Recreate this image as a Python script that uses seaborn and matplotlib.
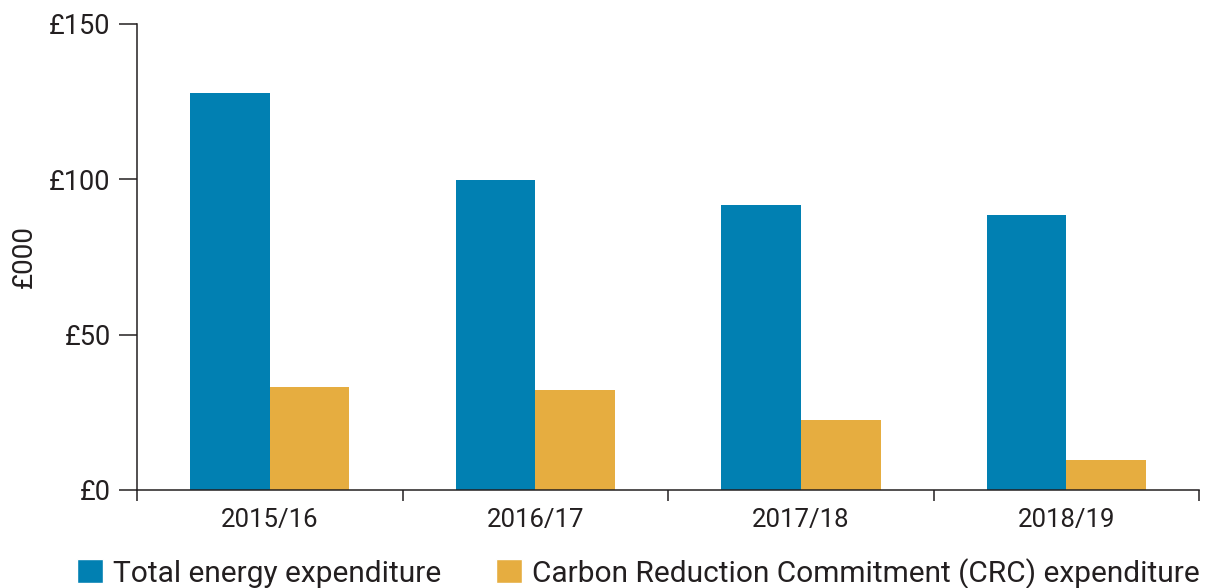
import pandas as pd
import matplotlib.pyplot as plt
import seaborn as sns
from matplotlib.patches import Patch
from matplotlib.ticker import FixedLocator, NullFormatter

years = ["2015/16", "2016/17", "2017/18", "2018/19"]
total_energy = [127.8, 99.8, 91.7, 88.5]
crc = [33.2, 32.2, 22.5, 9.7]
series_names = ["Total energy expenditure",
                "Carbon Reduction Commitment (CRC) expenditure"]
y_ticks = [0, 50, 100, 150]
y_tick_labels = ["£0", "£50", "£100", "£150"]

blue = "#0180B2"
orange = "#E6AD40"
ink = "#231F20"

df = pd.DataFrame({
    "Year": years * 2,
    "Series": [series_names[0]] * 4 + [series_names[1]] * 4,
    "Value": total_energy + crc,
})

sns.set_style("white")
plt.rcParams["font.family"] = ["Roboto", "DejaVu Sans"]

fig = plt.figure(figsize=(12.21, 5.88), dpi=100)
ax = fig.add_axes([0.1122, 0.1667, 0.8700, 0.7925])

sns.barplot(data=df, x="Year", y="Value", hue="Series", order=years,
            hue_order=series_names, palette=[blue, orange], width=0.6,
            saturation=1, linewidth=0, legend=False, ax=ax)

ax.set_xlim(-0.5, len(years) - 0.5)
ax.set_ylim(0, 150)
ax.set_yticks(y_ticks)
ax.set_yticklabels(y_tick_labels)

# category separators as major ticks, labels on minor ticks
ax.xaxis.set_major_locator(FixedLocator([i - 0.5 for i in range(len(years) + 1)]))
ax.xaxis.set_major_formatter(NullFormatter())
ax.xaxis.set_minor_locator(FixedLocator(range(len(years))))
ax.set_xticklabels(years, minor=True)
ax.tick_params(axis="x", which="major", direction="out", length=8, width=1.1,
               color=ink, bottom=True)
ax.tick_params(axis="x", which="minor", length=0, pad=13, labelsize=18.5,
               labelcolor=ink)
ax.tick_params(axis="y", direction="out", length=13, width=1.1, color=ink,
               left=True, pad=6, labelsize=19.5, labelcolor=ink)

ax.spines["top"].set_visible(False)
for side in ["left", "bottom", "right"]:
    ax.spines[side].set_color(ink)
    ax.spines[side].set_linewidth(1.1)
ax.spines["right"].set_bounds(0, 0)

ax.set_xlabel("")
ax.set_ylabel("£000", fontsize=20, color=ink, labelpad=8)

handles = [Patch(facecolor=blue), Patch(facecolor=orange)]
fig.legend(handles, series_names, loc="lower left",
           bbox_to_anchor=(0.061, -0.006), ncol=2, frameon=False,
           fontsize=21.5, handlelength=0.87, handleheight=0.87,
           handletextpad=0.33, columnspacing=1.84, borderpad=0.1,
           borderaxespad=0, labelcolor=ink)

plt.savefig("out.png", dpi=100)
